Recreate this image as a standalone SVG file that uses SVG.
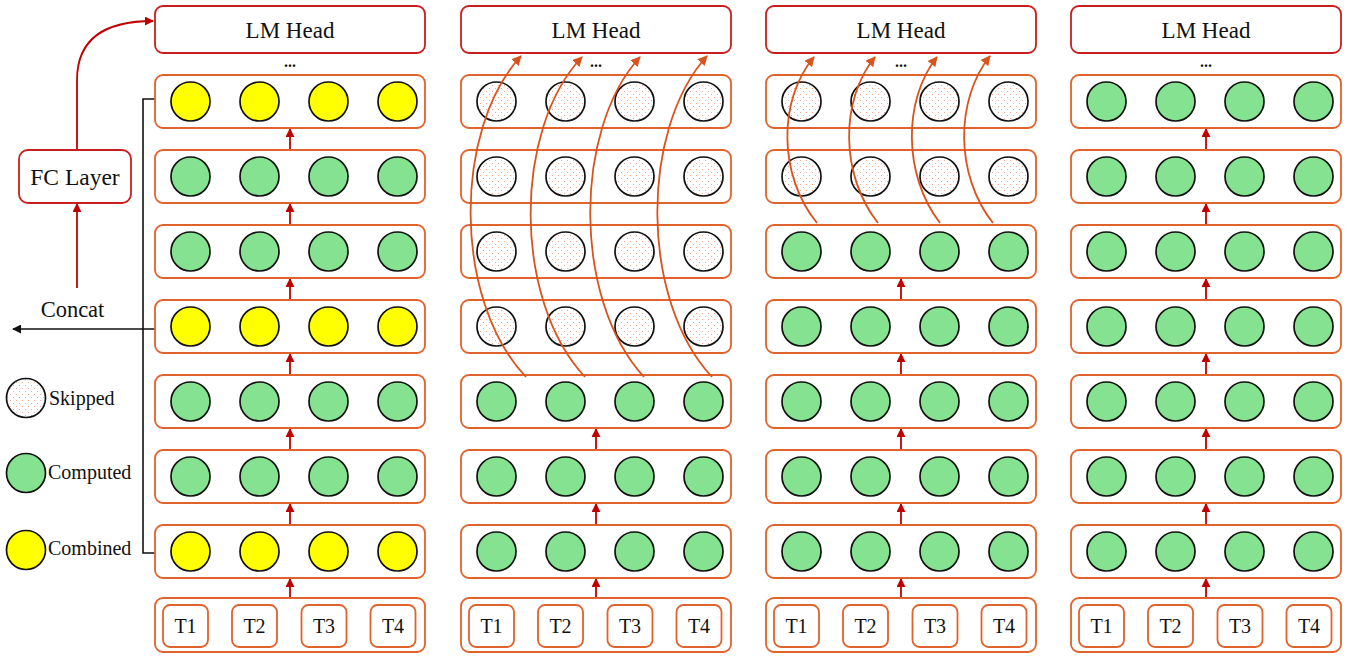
<svg xmlns="http://www.w3.org/2000/svg" width="1347" height="656" viewBox="0 0 1347 656">
<style>
text{font-family:"Liberation Serif","Times New Roman",serif;fill:#111}
.head{fill:#fff;stroke:#C81E1E;stroke-width:1.8}
.lay{fill:#fff;stroke:#E0622C;stroke-width:1.8}
.tok{fill:#fff;stroke:#E0622C;stroke-width:1.8}
.g{fill:#84E291;stroke:#111;stroke-width:1.7}
.y{fill:#FFFF00;stroke:#111;stroke-width:1.7}
.s{fill:url(#dots);stroke:#111;stroke-width:1.7}
.ra{stroke:#C00000;stroke-width:1.8;fill:none;marker-end:url(#rh)}
.oa{stroke:#D9531E;stroke-width:1.8;fill:none;marker-end:url(#oh)}
.bk{stroke:#111;stroke-width:1.6;fill:none}
.ht{font-size:23px;text-anchor:middle}
.tt{font-size:20px;text-anchor:middle}
.dd{font-size:16px;font-weight:bold;text-anchor:middle}
</style>
<defs>
<pattern id="dots" width="6" height="6" patternUnits="userSpaceOnUse">
<rect width="6" height="6" fill="#fff"/>
<rect x="1" y="1" width="1" height="1" fill="#F4AD92"/>
<rect x="4" y="4" width="1" height="1" fill="#F4AD92"/>
</pattern>
<marker id="rh" viewBox="0 0 10 10" refX="9" refY="5" markerWidth="9" markerHeight="9" markerUnits="userSpaceOnUse" orient="auto">
<path d="M0,0 L10,5 L0,10 z" fill="#C00000"/>
</marker>
<marker id="oh" viewBox="0 0 10 10" refX="9" refY="5" markerWidth="10" markerHeight="10" markerUnits="userSpaceOnUse" orient="auto">
<path d="M0,0 L10,5 L0,10 z" fill="#D9531E"/>
</marker>
<marker id="bh" viewBox="0 0 10 10" refX="9" refY="5" markerWidth="9" markerHeight="9" markerUnits="userSpaceOnUse" orient="auto">
<path d="M0,0 L10,5 L0,10 z" fill="#111"/>
</marker>
</defs>
<rect width="1347" height="656" fill="#fff"/>

<g id="connectors">
<line class="ra" x1="290" y1="598" x2="290" y2="579"/>
<line class="ra" x1="290" y1="525" x2="290" y2="504"/>
<line class="ra" x1="290" y1="450" x2="290" y2="429"/>
<line class="ra" x1="290" y1="375" x2="290" y2="354"/>
<line class="ra" x1="290" y1="300" x2="290" y2="279"/>
<line class="ra" x1="290" y1="225" x2="290" y2="204"/>
<line class="ra" x1="290" y1="150" x2="290" y2="129"/>
<line class="ra" x1="596" y1="598" x2="596" y2="579"/>
<line class="ra" x1="596" y1="525" x2="596" y2="504"/>
<line class="ra" x1="596" y1="450" x2="596" y2="429"/>
<line class="ra" x1="901" y1="598" x2="901" y2="579"/>
<line class="ra" x1="901" y1="525" x2="901" y2="504"/>
<line class="ra" x1="901" y1="450" x2="901" y2="429"/>
<line class="ra" x1="901" y1="375" x2="901" y2="354"/>
<line class="ra" x1="901" y1="300" x2="901" y2="279"/>
<line class="ra" x1="1206" y1="598" x2="1206" y2="579"/>
<line class="ra" x1="1206" y1="525" x2="1206" y2="504"/>
<line class="ra" x1="1206" y1="450" x2="1206" y2="429"/>
<line class="ra" x1="1206" y1="375" x2="1206" y2="354"/>
<line class="ra" x1="1206" y1="300" x2="1206" y2="279"/>
<line class="ra" x1="1206" y1="225" x2="1206" y2="204"/>
<line class="ra" x1="1206" y1="150" x2="1206" y2="129"/>
<path class="bk" d="M155,99 H143 V553 H155"/>
<line class="bk" x1="155" y1="329" x2="13" y2="329" marker-end="url(#bh)"/>
<line class="ra" x1="77" y1="288" x2="77" y2="204"/>
<path class="ra" d="M77,150 V80 C77,38 105,21 153,21"/>
</g>

<g id="fc-layer">
<rect class="head" x="19" y="150" width="112" height="53" rx="9"/>
<text x="75" y="185" style="font-size:23.5px;text-anchor:middle">FC Layer</text>
</g>
<g id="concat-label"><text x="72.5" y="317" style="font-size:22.5px;text-anchor:middle">Concat</text></g>

<g id="legend-skipped"><circle class="s" cx="26" cy="398" r="19.5"/><text x="49" y="405" style="font-size:20px">Skipped</text></g>
<g id="legend-computed"><circle class="g" cx="26" cy="473" r="19.5"/><text x="48" y="479" style="font-size:20px">Computed</text></g>
<g id="legend-combined"><circle class="y" cx="26" cy="550" r="19.5"/><text x="48" y="555" style="font-size:20px">Combined</text></g>

<g id="col1" transform="translate(155,0)">
<g id="c1-head"><rect class="head" x="0" y="6" width="270" height="47" rx="8"/><text class="ht" x="135" y="38">LM Head</text><text class="dd" x="135" y="67">...</text></g>
<g id="c1-r1"><rect class="lay" x="0" y="75" width="270" height="53" rx="8"/><circle class="y" cx="35.5" cy="101.5" r="19.5"/><circle class="y" cx="104.5" cy="101.5" r="19.5"/><circle class="y" cx="173.5" cy="101.5" r="19.5"/><circle class="y" cx="242.5" cy="101.5" r="19.5"/></g>
<g id="c1-r2"><rect class="lay" x="0" y="150" width="270" height="53" rx="8"/><circle class="g" cx="35.5" cy="176.5" r="19.5"/><circle class="g" cx="104.5" cy="176.5" r="19.5"/><circle class="g" cx="173.5" cy="176.5" r="19.5"/><circle class="g" cx="242.5" cy="176.5" r="19.5"/></g>
<g id="c1-r3"><rect class="lay" x="0" y="225" width="270" height="53" rx="8"/><circle class="g" cx="35.5" cy="251.5" r="19.5"/><circle class="g" cx="104.5" cy="251.5" r="19.5"/><circle class="g" cx="173.5" cy="251.5" r="19.5"/><circle class="g" cx="242.5" cy="251.5" r="19.5"/></g>
<g id="c1-r4"><rect class="lay" x="0" y="300" width="270" height="53" rx="8"/><circle class="y" cx="35.5" cy="326.5" r="19.5"/><circle class="y" cx="104.5" cy="326.5" r="19.5"/><circle class="y" cx="173.5" cy="326.5" r="19.5"/><circle class="y" cx="242.5" cy="326.5" r="19.5"/></g>
<g id="c1-r5"><rect class="lay" x="0" y="375" width="270" height="53" rx="8"/><circle class="g" cx="35.5" cy="401.5" r="19.5"/><circle class="g" cx="104.5" cy="401.5" r="19.5"/><circle class="g" cx="173.5" cy="401.5" r="19.5"/><circle class="g" cx="242.5" cy="401.5" r="19.5"/></g>
<g id="c1-r6"><rect class="lay" x="0" y="450" width="270" height="53" rx="8"/><circle class="g" cx="35.5" cy="476.5" r="19.5"/><circle class="g" cx="104.5" cy="476.5" r="19.5"/><circle class="g" cx="173.5" cy="476.5" r="19.5"/><circle class="g" cx="242.5" cy="476.5" r="19.5"/></g>
<g id="c1-r7"><rect class="lay" x="0" y="525" width="270" height="53" rx="8"/><circle class="y" cx="35.5" cy="551.5" r="19.5"/><circle class="y" cx="104.5" cy="551.5" r="19.5"/><circle class="y" cx="173.5" cy="551.5" r="19.5"/><circle class="y" cx="242.5" cy="551.5" r="19.5"/></g>
<g id="c1-tokens"><rect class="lay" x="0" y="598" width="270" height="54" rx="8"/>
<rect class="tok" x="8" y="605" width="45" height="42" rx="7"/><text class="tt" x="30.5" y="633">T1</text>
<rect class="tok" x="77" y="605" width="45" height="42" rx="7"/><text class="tt" x="99.5" y="633">T2</text>
<rect class="tok" x="146.5" y="605" width="45" height="42" rx="7"/><text class="tt" x="169" y="633">T3</text>
<rect class="tok" x="215.5" y="605" width="45" height="42" rx="7"/><text class="tt" x="238" y="633">T4</text></g>
</g>

<g id="col2" transform="translate(461,0)">
<g id="c2-head"><rect class="head" x="0" y="6" width="270" height="47" rx="8"/><text class="ht" x="135" y="38">LM Head</text><text class="dd" x="135" y="67">...</text></g>
<g id="c2-r1"><rect class="lay" x="0" y="75" width="270" height="53" rx="8"/><circle class="s" cx="35.5" cy="101.5" r="19.5"/><circle class="s" cx="104.5" cy="101.5" r="19.5"/><circle class="s" cx="173.5" cy="101.5" r="19.5"/><circle class="s" cx="242.5" cy="101.5" r="19.5"/></g>
<g id="c2-r2"><rect class="lay" x="0" y="150" width="270" height="53" rx="8"/><circle class="s" cx="35.5" cy="176.5" r="19.5"/><circle class="s" cx="104.5" cy="176.5" r="19.5"/><circle class="s" cx="173.5" cy="176.5" r="19.5"/><circle class="s" cx="242.5" cy="176.5" r="19.5"/></g>
<g id="c2-r3"><rect class="lay" x="0" y="225" width="270" height="53" rx="8"/><circle class="s" cx="35.5" cy="251.5" r="19.5"/><circle class="s" cx="104.5" cy="251.5" r="19.5"/><circle class="s" cx="173.5" cy="251.5" r="19.5"/><circle class="s" cx="242.5" cy="251.5" r="19.5"/></g>
<g id="c2-r4"><rect class="lay" x="0" y="300" width="270" height="53" rx="8"/><circle class="s" cx="35.5" cy="326.5" r="19.5"/><circle class="s" cx="104.5" cy="326.5" r="19.5"/><circle class="s" cx="173.5" cy="326.5" r="19.5"/><circle class="s" cx="242.5" cy="326.5" r="19.5"/></g>
<g id="c2-r5"><rect class="lay" x="0" y="375" width="270" height="53" rx="8"/><circle class="g" cx="35.5" cy="401.5" r="19.5"/><circle class="g" cx="104.5" cy="401.5" r="19.5"/><circle class="g" cx="173.5" cy="401.5" r="19.5"/><circle class="g" cx="242.5" cy="401.5" r="19.5"/></g>
<g id="c2-r6"><rect class="lay" x="0" y="450" width="270" height="53" rx="8"/><circle class="g" cx="35.5" cy="476.5" r="19.5"/><circle class="g" cx="104.5" cy="476.5" r="19.5"/><circle class="g" cx="173.5" cy="476.5" r="19.5"/><circle class="g" cx="242.5" cy="476.5" r="19.5"/></g>
<g id="c2-r7"><rect class="lay" x="0" y="525" width="270" height="53" rx="8"/><circle class="g" cx="35.5" cy="551.5" r="19.5"/><circle class="g" cx="104.5" cy="551.5" r="19.5"/><circle class="g" cx="173.5" cy="551.5" r="19.5"/><circle class="g" cx="242.5" cy="551.5" r="19.5"/></g>
<g id="c2-tokens"><rect class="lay" x="0" y="598" width="270" height="54" rx="8"/>
<rect class="tok" x="8" y="605" width="45" height="42" rx="7"/><text class="tt" x="30.5" y="633">T1</text>
<rect class="tok" x="77" y="605" width="45" height="42" rx="7"/><text class="tt" x="99.5" y="633">T2</text>
<rect class="tok" x="146.5" y="605" width="45" height="42" rx="7"/><text class="tt" x="169" y="633">T3</text>
<rect class="tok" x="215.5" y="605" width="45" height="42" rx="7"/><text class="tt" x="238" y="633">T4</text></g>
</g>

<g id="col3" transform="translate(766,0)">
<g id="c3-head"><rect class="head" x="0" y="6" width="270" height="47" rx="8"/><text class="ht" x="135" y="38">LM Head</text><text class="dd" x="135" y="67">...</text></g>
<g id="c3-r1"><rect class="lay" x="0" y="75" width="270" height="53" rx="8"/><circle class="s" cx="35.5" cy="101.5" r="19.5"/><circle class="s" cx="104.5" cy="101.5" r="19.5"/><circle class="s" cx="173.5" cy="101.5" r="19.5"/><circle class="s" cx="242.5" cy="101.5" r="19.5"/></g>
<g id="c3-r2"><rect class="lay" x="0" y="150" width="270" height="53" rx="8"/><circle class="s" cx="35.5" cy="176.5" r="19.5"/><circle class="s" cx="104.5" cy="176.5" r="19.5"/><circle class="s" cx="173.5" cy="176.5" r="19.5"/><circle class="s" cx="242.5" cy="176.5" r="19.5"/></g>
<g id="c3-r3"><rect class="lay" x="0" y="225" width="270" height="53" rx="8"/><circle class="g" cx="35.5" cy="251.5" r="19.5"/><circle class="g" cx="104.5" cy="251.5" r="19.5"/><circle class="g" cx="173.5" cy="251.5" r="19.5"/><circle class="g" cx="242.5" cy="251.5" r="19.5"/></g>
<g id="c3-r4"><rect class="lay" x="0" y="300" width="270" height="53" rx="8"/><circle class="g" cx="35.5" cy="326.5" r="19.5"/><circle class="g" cx="104.5" cy="326.5" r="19.5"/><circle class="g" cx="173.5" cy="326.5" r="19.5"/><circle class="g" cx="242.5" cy="326.5" r="19.5"/></g>
<g id="c3-r5"><rect class="lay" x="0" y="375" width="270" height="53" rx="8"/><circle class="g" cx="35.5" cy="401.5" r="19.5"/><circle class="g" cx="104.5" cy="401.5" r="19.5"/><circle class="g" cx="173.5" cy="401.5" r="19.5"/><circle class="g" cx="242.5" cy="401.5" r="19.5"/></g>
<g id="c3-r6"><rect class="lay" x="0" y="450" width="270" height="53" rx="8"/><circle class="g" cx="35.5" cy="476.5" r="19.5"/><circle class="g" cx="104.5" cy="476.5" r="19.5"/><circle class="g" cx="173.5" cy="476.5" r="19.5"/><circle class="g" cx="242.5" cy="476.5" r="19.5"/></g>
<g id="c3-r7"><rect class="lay" x="0" y="525" width="270" height="53" rx="8"/><circle class="g" cx="35.5" cy="551.5" r="19.5"/><circle class="g" cx="104.5" cy="551.5" r="19.5"/><circle class="g" cx="173.5" cy="551.5" r="19.5"/><circle class="g" cx="242.5" cy="551.5" r="19.5"/></g>
<g id="c3-tokens"><rect class="lay" x="0" y="598" width="270" height="54" rx="8"/>
<rect class="tok" x="8" y="605" width="45" height="42" rx="7"/><text class="tt" x="30.5" y="633">T1</text>
<rect class="tok" x="77" y="605" width="45" height="42" rx="7"/><text class="tt" x="99.5" y="633">T2</text>
<rect class="tok" x="146.5" y="605" width="45" height="42" rx="7"/><text class="tt" x="169" y="633">T3</text>
<rect class="tok" x="215.5" y="605" width="45" height="42" rx="7"/><text class="tt" x="238" y="633">T4</text></g>
</g>

<g id="col4" transform="translate(1071,0)">
<g id="c4-head"><rect class="head" x="0" y="6" width="270" height="47" rx="8"/><text class="ht" x="135" y="38">LM Head</text><text class="dd" x="135" y="67">...</text></g>
<g id="c4-r1"><rect class="lay" x="0" y="75" width="270" height="53" rx="8"/><circle class="g" cx="35.5" cy="101.5" r="19.5"/><circle class="g" cx="104.5" cy="101.5" r="19.5"/><circle class="g" cx="173.5" cy="101.5" r="19.5"/><circle class="g" cx="242.5" cy="101.5" r="19.5"/></g>
<g id="c4-r2"><rect class="lay" x="0" y="150" width="270" height="53" rx="8"/><circle class="g" cx="35.5" cy="176.5" r="19.5"/><circle class="g" cx="104.5" cy="176.5" r="19.5"/><circle class="g" cx="173.5" cy="176.5" r="19.5"/><circle class="g" cx="242.5" cy="176.5" r="19.5"/></g>
<g id="c4-r3"><rect class="lay" x="0" y="225" width="270" height="53" rx="8"/><circle class="g" cx="35.5" cy="251.5" r="19.5"/><circle class="g" cx="104.5" cy="251.5" r="19.5"/><circle class="g" cx="173.5" cy="251.5" r="19.5"/><circle class="g" cx="242.5" cy="251.5" r="19.5"/></g>
<g id="c4-r4"><rect class="lay" x="0" y="300" width="270" height="53" rx="8"/><circle class="g" cx="35.5" cy="326.5" r="19.5"/><circle class="g" cx="104.5" cy="326.5" r="19.5"/><circle class="g" cx="173.5" cy="326.5" r="19.5"/><circle class="g" cx="242.5" cy="326.5" r="19.5"/></g>
<g id="c4-r5"><rect class="lay" x="0" y="375" width="270" height="53" rx="8"/><circle class="g" cx="35.5" cy="401.5" r="19.5"/><circle class="g" cx="104.5" cy="401.5" r="19.5"/><circle class="g" cx="173.5" cy="401.5" r="19.5"/><circle class="g" cx="242.5" cy="401.5" r="19.5"/></g>
<g id="c4-r6"><rect class="lay" x="0" y="450" width="270" height="53" rx="8"/><circle class="g" cx="35.5" cy="476.5" r="19.5"/><circle class="g" cx="104.5" cy="476.5" r="19.5"/><circle class="g" cx="173.5" cy="476.5" r="19.5"/><circle class="g" cx="242.5" cy="476.5" r="19.5"/></g>
<g id="c4-r7"><rect class="lay" x="0" y="525" width="270" height="53" rx="8"/><circle class="g" cx="35.5" cy="551.5" r="19.5"/><circle class="g" cx="104.5" cy="551.5" r="19.5"/><circle class="g" cx="173.5" cy="551.5" r="19.5"/><circle class="g" cx="242.5" cy="551.5" r="19.5"/></g>
<g id="c4-tokens"><rect class="lay" x="0" y="598" width="270" height="54" rx="8"/>
<rect class="tok" x="8" y="605" width="45" height="42" rx="7"/><text class="tt" x="30.5" y="633">T1</text>
<rect class="tok" x="77" y="605" width="45" height="42" rx="7"/><text class="tt" x="99.5" y="633">T2</text>
<rect class="tok" x="146.5" y="605" width="45" height="42" rx="7"/><text class="tt" x="169" y="633">T3</text>
<rect class="tok" x="215.5" y="605" width="45" height="42" rx="7"/><text class="tt" x="238" y="633">T4</text></g>
</g>

<g id="skip-connectors">
<path class="oa" d="M526,377 C453,300 453,130 521,56"/>
<path class="oa" d="M585,377 C513,300 513,130 582,57"/>
<path class="oa" d="M644,377 C573,300 573,130 640,57"/>
<path class="oa" d="M712,377 C640,300 640,130 707,56"/>
<path class="oa" d="M817,223 C778,175 778,100 814,57"/>
<path class="oa" d="M878,223 C840,175 840,100 875,57"/>
<path class="oa" d="M940,223 C903,175 903,100 937,57"/>
<path class="oa" d="M993,223 C955,175 955,100 990,56"/>
</g>
</svg>
